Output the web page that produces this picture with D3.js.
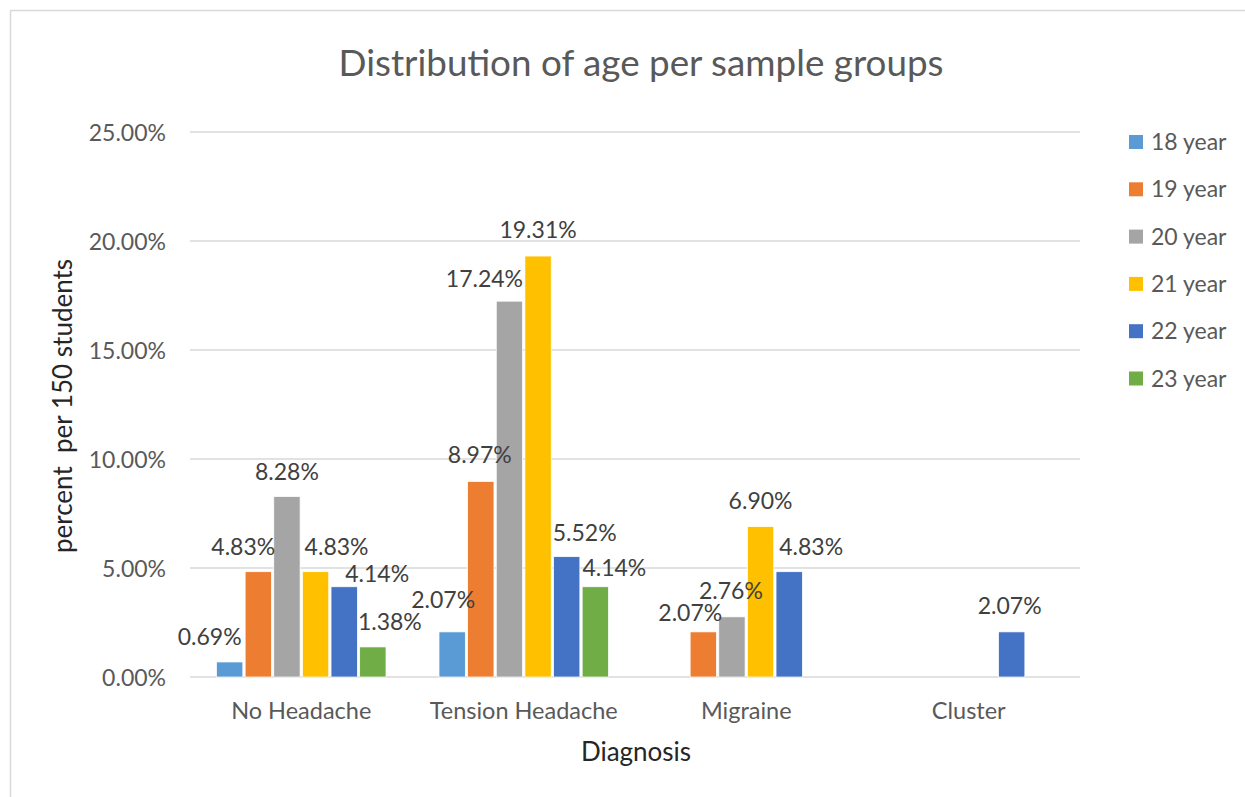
<!DOCTYPE html>
<html>
<head>
<meta charset="utf-8">
<script src="https://cdn.jsdelivr.net/npm/d3@7"></script>
<style>
  html, body { margin: 0; padding: 0; background: #fff; }
  svg { display: block; font-family: Lato, "Open Sans", sans-serif; }
</style>
</head>
<body>
<svg id="chart" width="1245" height="797"></svg>
<script>
// ---- data ----
const categories = ["No Headache", "Tension Headache", "Migraine", "Cluster"];
const seriesNames = ["18 year", "19 year", "20 year", "21 year", "22 year", "23 year"];
const age18 = [0.0069, 0.0207, null, null];
const age19 = [0.0483, 0.0897, 0.0207, null];
const age20 = [0.0828, 0.1724, 0.0276, null];
const age21 = [0.0483, 0.1931, 0.0690, null];
const age22 = [0.0414, 0.0552, 0.0483, 0.0207];
const age23 = [0.0138, 0.0414, null, null];
const yTicks = [0, 0.05, 0.10, 0.15, 0.20, 0.25];
const titleText = "Distribution of age per sample groups";
const yTitle = "percent  per 150 students";
const xTitle = "Diagnosis";

// ---- layout / style (not data) ----
const colors = ["#5B9BD5", "#ED7D31", "#A5A5A5", "#FFC000", "#4472C4", "#70AD47"];
// per-label pixel nudges [dx, dy] mimicking the reference's label placement
const labelNudge = [
  [[-20, 0], [-9, -7], null, null],
  [[-15, 0], [-1, -2], [-13, 6], null],
  [[0, 0], [-25, 3], [-1, -1], null],
  [[21, 0], [0, -1], [0, -1], null],
  [[33, 12], [18, 1], [22, 0], [-2, -1]],
  [[17, 0], [19, 6], null, null]
];

const seriesValues = [age18, age19, age20, age21, age22, age23];
const svg = d3.select("#chart");
const W = 1245, H = 797;
const plot = { left: 190, right: 1080, top: 132, bottom: 677 };

// chart border
svg.append("rect")
  .attr("x", 10.5).attr("y", 10.5)
  .attr("width", W + 20).attr("height", H + 20)
  .attr("fill", "#fff").attr("stroke", "#d9d9d9").attr("stroke-width", 1.5);

const x0 = d3.scaleBand().domain(categories).range([plot.left, plot.right]).padding(0);
const x1 = d3.scaleBand().domain(seriesNames)
  .range([26.5, x0.bandwidth() - 26.5]).paddingInner(0.08).paddingOuter(0);
const y = d3.scaleLinear().domain([0, 0.25]).range([plot.bottom, plot.top]);

// gridlines
svg.append("g").selectAll("line").data(yTicks).join("line")
  .attr("x1", plot.left).attr("x2", plot.right)
  .attr("y1", d => y(d)).attr("y2", d => y(d))
  .attr("stroke", "#d9d9d9").attr("stroke-width", 1.5);

// y axis tick labels
const yAxis = d3.axisLeft(y).tickValues(yTicks).tickFormat(d3.format(".2%")).tickSize(0).tickPadding(0);
const yg = svg.append("g").attr("transform", `translate(${plot.left - 24},0)`).call(yAxis);
yg.select(".domain").remove();
yg.selectAll("text").attr("font-size", 23).attr("fill", "#595959")
  .attr("font-family", "Lato, sans-serif").attr("dy", "0.35em");

// x axis labels
const xAxis = d3.axisBottom(x0).tickSize(0).tickPadding(0);
const xg = svg.append("g").attr("transform", `translate(0,${plot.bottom})`).call(xAxis);
xg.select(".domain").remove();
xg.selectAll("text").attr("font-size", 23.5).attr("fill", "#595959")
  .attr("font-family", "Lato, sans-serif").attr("dy", null).attr("y", 42);

// bars
const flat = [];
seriesValues.forEach((vals, si) => {
  vals.forEach((v, ci) => {
    if (v != null) flat.push({ si, ci, v, cat: categories[ci], s: seriesNames[si] });
  });
});

svg.append("g").selectAll("rect").data(flat).join("rect")
  .attr("x", d => x0(d.cat) + x1(d.s))
  .attr("width", x1.bandwidth())
  .attr("y", d => y(d.v))
  .attr("height", d => y(0) - y(d.v))
  .attr("fill", d => colors[d.si])
  .attr("stroke", "#fff").attr("stroke-width", 0.75);

// data labels
svg.append("g").selectAll("text").data(flat).join("text")
  .attr("x", d => x0(d.cat) + x1(d.s) + x1.bandwidth() / 2 + (labelNudge[d.si][d.ci] ? labelNudge[d.si][d.ci][0] : 0))
  .attr("y", d => y(d.v) - 25 + (labelNudge[d.si][d.ci] ? labelNudge[d.si][d.ci][1] : 0))
  .attr("dy", "0.35em")
  .attr("text-anchor", "middle")
  .attr("font-size", 23).attr("fill", "#404040")
  .text(d => d3.format(".2%")(d.v));

// title
svg.append("text")
  .attr("x", 641).attr("y", 76)
  .attr("text-anchor", "middle")
  .attr("font-size", 36.8).attr("fill", "#595959")
  .text(titleText);

// y axis title
svg.append("text")
  .attr("transform", `translate(72,406) rotate(-90)`)
  .attr("text-anchor", "middle")
  .attr("font-size", 26).attr("fill", "#262626")
  .style("white-space", "pre")
  .attr("xml:space", "preserve")
  .text(yTitle);

// x axis title
svg.append("text")
  .attr("x", 636).attr("y", 761)
  .attr("text-anchor", "middle")
  .attr("font-size", 26).attr("fill", "#262626")
  .text(xTitle);

// legend
const legend = svg.append("g");
seriesNames.forEach((name, i) => {
  const cy = 142 + i * 47.3;
  legend.append("rect").attr("x", 1129).attr("y", cy - 7).attr("width", 14).attr("height", 14)
    .attr("fill", colors[i]);
  legend.append("text").attr("x", 1151).attr("y", cy).attr("dy", "0.35em")
    .attr("font-size", 23).attr("fill", "#595959").text(name);
});
</script>
</body>
</html>
